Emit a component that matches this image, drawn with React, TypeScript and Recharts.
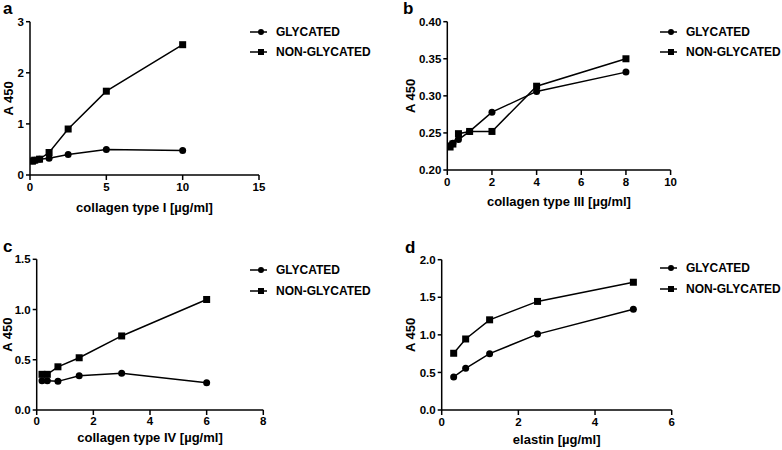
import { Legend, Line, LineChart, XAxis, YAxis } from "recharts";

const FONT = '"Liberation Sans", Arial, Helvetica, sans-serif';

// panel a: collagen type I
const concA = [0.156, 0.3125, 0.625, 1.25, 2.5, 5, 10];
const glycA = [0.28, 0.29, 0.31, 0.33, 0.4, 0.5, 0.48];
const nonA = [0.27, 0.29, 0.31, 0.44, 0.9, 1.64, 2.55];

// panel b: collagen type III
const concB = [0.125, 0.25, 0.5, 1, 2, 4, 8];
const glycB = [0.233, 0.236, 0.241, 0.252, 0.278, 0.306, 0.332];
const nonB = [0.231, 0.235, 0.249, 0.252, 0.252, 0.313, 0.35];

// panel c: collagen type IV
const concC = [0.1875, 0.375, 0.75, 1.5, 3, 6];
const glycC = [0.29, 0.29, 0.285, 0.34, 0.365, 0.272];
const nonC = [0.355, 0.355, 0.43, 0.52, 0.737, 1.1];

// panel d: elastin
const concD = [0.3125, 0.625, 1.25, 2.5, 5];
const glycD = [0.44, 0.554, 0.75, 1.01, 1.34];
const nonD = [0.755, 0.945, 1.2, 1.445, 1.7];

const SERIES = ["GLYCATED", "NON-GLYCATED"];

const square = (props: any) => {
  const { cx, cy, index } = props;
  return <rect key={`sq-${index}`} x={cx - 3.5} y={cy - 3.5} width={7} height={7} fill="#000" />;
};

const LegendBox = (props: any) => {
  const items = props.payload || [];
  return (
    <div style={{ fontFamily: FONT, fontWeight: "bold", fontSize: 12, color: "#000" }}>
      {items.map((it: any) => (
        <div key={it.value} style={{ display: "flex", alignItems: "center", height: 20.6 }}>
          <svg width={25} height={10} style={{ flex: "none" }}>
            <line x1={0} x2={17} y1={5} y2={5} stroke="#000" strokeWidth={1.5} />
            {it.value === SERIES[0] ? (
              <circle cx={11} cy={5} r={3} fill="#000" />
            ) : (
              <rect x={8} y={2} width={6} height={6} fill="#000" />
            )}
          </svg>
          <span style={{ marginLeft: 1, whiteSpace: "nowrap" }}>{it.value}</span>
        </div>
      ))}
    </div>
  );
};

type PanelProps = {
  left: number;
  top: number;
  width: number;
  conc: number[];
  glyc: number[];
  non: number[];
  margin: { top: number; right: number; bottom: number; left: number };
  yWidth: number;
  yLabelOffset: number;
  xDomain: [number, number];
  xTicks: number[];
  yDomain: [number, number];
  yTicks: number[];
  yDigits: number;
  xLabel: string;
  xLabelOffset: number;
  xTickMargin: number;
  legendLeft: number;
  legendTop: number;
};

const tickStyle = { fill: "#000", fontSize: 11.5, fontWeight: "bold", fontFamily: FONT };
const labelStyle = { fill: "#000", fontSize: 13, fontWeight: "bold", fontFamily: FONT };

function Panel(p: PanelProps) {
  const rows = p.conc.map((x, i) => ({ x, g: p.glyc[i], n: p.non[i] }));
  return (
    <div style={{ position: "absolute", left: p.left, top: p.top }}>
      <LineChart width={p.width} height={225} data={rows} margin={p.margin}>
        <XAxis
          type="number"
          dataKey="x"
          domain={p.xDomain}
          ticks={p.xTicks}
          allowDataOverflow
          height={45}
          tickSize={5}
          tickMargin={p.xTickMargin}
          stroke="#000"
          strokeWidth={1.5}
          tick={tickStyle}
          label={{ value: p.xLabel, position: "insideBottom", offset: p.xLabelOffset, ...labelStyle }}
        />
        <YAxis
          type="number"
          domain={p.yDomain}
          ticks={p.yTicks}
          allowDataOverflow
          width={p.yWidth}
          tickSize={4}
          tickMargin={2}
          stroke="#000"
          strokeWidth={1.5}
          tick={tickStyle}
          tickFormatter={(v: number) => v.toFixed(p.yDigits)}
          label={{
            value: "A 450",
            position: "insideLeft",
            angle: -90,
            offset: p.yLabelOffset,
            ...labelStyle,
            style: { textAnchor: "middle" },
          }}
        />
        <Legend
          content={<LegendBox />}
          layout="vertical"
          align="center"
          verticalAlign="middle"
          wrapperStyle={{ left: p.legendLeft, top: p.legendTop, width: 140, height: 42 }}
        />
        <Line
          type="linear"
          dataKey="g"
          name={SERIES[0]}
          stroke="#000"
          strokeWidth={1.5}
          dot={{ r: 3.5, fill: "#000", stroke: "#000", strokeWidth: 0 }}
          isAnimationActive={false}
        />
        <Line
          type="linear"
          dataKey="n"
          name={SERIES[1]}
          stroke="#000"
          strokeWidth={1.5}
          dot={square}
          isAnimationActive={false}
        />
      </LineChart>
    </div>
  );
}

export default function App() {
  return (
    <div style={{ position: "absolute", left: 0, top: 0, width: 782, height: 450, background: "#fff" }}>
      <Panel
        left={0}
        top={0}
        width={391}
        conc={concA}
        glyc={glycA}
        non={nonA}
        margin={{ top: 21.7, right: 132, bottom: 5, left: 0 }}
        yWidth={30}
        yLabelOffset={8}
        xDomain={[0, 15]}
        xTicks={[0, 5, 10, 15]}
        yDomain={[0, 3]}
        yTicks={[0, 1, 2, 3]}
        yDigits={0}
        xLabel="collagen type I [µg/ml]"
        xLabelOffset={8}
        xTickMargin={3}
        legendLeft={250}
        legendTop={21.4}
      />
      <Panel
        left={390}
        top={0}
        width={392}
        conc={concB}
        glyc={glycB}
        non={nonB}
        margin={{ top: 21.7, right: 111.4, bottom: 10, left: 0 }}
        yWidth={57.3}
        yLabelOffset={20}
        xDomain={[0, 10]}
        xTicks={[0, 2, 4, 6, 8, 10]}
        yDomain={[0.2, 0.4]}
        yTicks={[0.2, 0.25, 0.3, 0.35, 0.4]}
        yDigits={2}
        xLabel="collagen type III [µg/ml]"
        xLabelOffset={9}
        xTickMargin={3}
        legendLeft={270}
        legendTop={21.4}
      />
      <Panel
        left={0}
        top={225}
        width={391}
        conc={concC}
        glyc={glycC}
        non={nonC}
        margin={{ top: 34.3, right: 127.7, bottom: -5, left: 0 }}
        yWidth={36.7}
        yLabelOffset={7}
        xDomain={[0, 8]}
        xTicks={[0, 2, 4, 6, 8]}
        yDomain={[0, 1.5]}
        yTicks={[0, 0.5, 1, 1.5]}
        yDigits={1}
        xLabel="collagen type IV [µg/ml]"
        xLabelOffset={13.5}
        xTickMargin={2}
        legendLeft={250}
        legendTop={34.7}
      />
      <Panel
        left={390}
        top={225}
        width={392}
        conc={concD}
        glyc={glycD}
        non={nonD}
        margin={{ top: 34.7, right: 110.3, bottom: -5, left: 0 }}
        yWidth={51.7}
        yLabelOffset={20}
        xDomain={[0, 6]}
        xTicks={[0, 2, 4, 6]}
        yDomain={[0, 2]}
        yTicks={[0, 0.5, 1, 1.5, 2]}
        yDigits={1}
        xLabel="elastin [µg/ml]"
        xLabelOffset={11.5}
        xTickMargin={3}
        legendLeft={270}
        legendTop={32.7}
      />
      <svg
        width={782}
        height={450}
        style={{ position: "absolute", left: 0, top: 0, pointerEvents: "none" }}
      >
        <g fontFamily={FONT} fontWeight="bold" fontSize={17} fill="#000">
          <text x={3} y={13.5}>a</text>
          <text x={403} y={14}>b</text>
          <text x={3} y={252}>c</text>
          <text x={405} y={253}>d</text>
        </g>
      </svg>
    </div>
  );
}
